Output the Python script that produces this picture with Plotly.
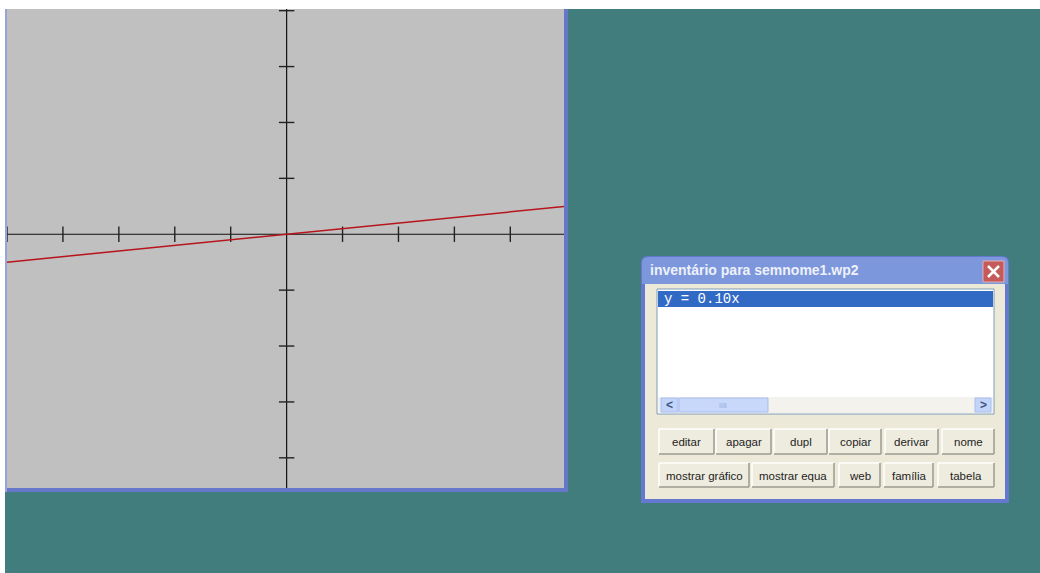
import plotly.graph_objects as go

# canvas (screenshot) size in pixels
W, H = 1040, 573

# ---- graph data ----
x_range = [-5.0, 4.96]
y_range = [-4.54, 4.03]
x_ticks = [-5, -4, -3, -2, -1, 1, 2, 3, 4]
y_ticks = [-4, -3, -2, -1, 1, 2, 3, 4]
line_x = [-5.0, 4.96]
line_y = [-0.50, 0.496]   # y = 0.10x

# ---- inventory window texts ----
window_title = "inventário para semnome1.wp2"
list_items = ["y = 0.10x"]
buttons_row1 = ["editar", "apagar", "dupl", "copiar", "derivar", "nome"]
buttons_row2 = ["mostrar gráfico", "mostrar equa", "web", "família", "tabela"]

# button geometry (pixel x-extents) for each row
row1_x = [(659, 714), (716, 771), (774, 827), (829, 881), (885, 938), (942, 994)]
row2_x = [(659, 749), (752, 834), (839, 880), (884, 933), (938, 994)]
row1_y = (429, 454)
row2_y = (463, 487)

TEAL = "#417D7D"
GRAY = "#C0C0C0"
BEIGE = "#ECE9D8"


def fx(p):
    return p / W


def fy(p):
    return 1 - p / H


shapes = []
annotations = []


def rect(x0, y0, x1, y1, fill, line=None, lw=1, layer="above"):
    shapes.append(dict(
        type="rect", xref="paper", yref="paper",
        x0=fx(x0), x1=fx(x1), y0=fy(y1), y1=fy(y0),
        fillcolor=fill, layer=layer,
        line=dict(color=line or fill, width=lw if line else 0),
    ))


def seg(x0, y0, x1, y1, color, lw=1, layer="above"):
    shapes.append(dict(
        type="line", xref="paper", yref="paper",
        x0=fx(x0), x1=fx(x1), y0=fy(y0), y1=fy(y1),
        layer=layer, line=dict(color=color, width=lw),
    ))


def text(x, y, s, size=11, color="#222222", family="Liberation Sans",
         anchor="center", bold=False):
    annotations.append(dict(
        xref="paper", yref="paper", x=fx(x), y=fy(y), text=f"<b>{s}</b>" if bold else s,
        showarrow=False, xanchor=anchor, yanchor="middle",
        font=dict(size=size, color=color, family=family),
    ))


def top_rounded(x0, y0, x1, y1, r, fill):
    path = (
        f"M {fx(x0)},{fy(y1)} L {fx(x0)},{fy(y0 + r)} "
        f"Q {fx(x0)},{fy(y0)} {fx(x0 + r)},{fy(y0)} "
        f"L {fx(x1 - r)},{fy(y0)} Q {fx(x1)},{fy(y0)} {fx(x1)},{fy(y0 + r)} "
        f"L {fx(x1)},{fy(y1)} Z"
    )
    shapes.append(dict(type="path", xref="paper", yref="paper", path=path,
                       fillcolor=fill, line=dict(width=0), layer="above"))


# desktop background (kept off the plot area)
rect(568, 9, W, H, TEAL, layer="below")
rect(5, 492, 568, H, TEAL, layer="below")
# graph window borders
rect(564, 9, 568, 492, "#6676C8", layer="below")
rect(5, 488, 568, 492, "#6676C8", layer="below")
rect(5, 9, 7, 492, "#98A4D8", layer="below")

# ---- inventory window ----
top_rounded(641, 256, 1009, 503, 7, "#6478CF")
top_rounded(642, 257, 1008, 284, 6, "#7D97DD")
rect(645, 284, 1005, 499, BEIGE)
text(648, 270, window_title, size=14, color="#EEF1FA", anchor="left", bold=True,
     family="Liberation Sans")
# close button
rect(983, 261, 1004, 282, "#C55A5A", line="#E6B0B0", lw=1)
seg(988, 266, 999, 277, "white", lw=2.5)
seg(999, 266, 988, 277, "white", lw=2.5)

# list box
rect(657, 289, 994, 414, "white", line="#7F9DB9", lw=1)
rect(658, 291, 993, 307, "#316AC5")
for i, item in enumerate(list_items):
    text(662, 299 + 16 * i, item, size=14, color="white",
         family="Liberation Mono", anchor="left")
# horizontal scrollbar
rect(658, 397, 993, 413, "#F3F2EC")
rect(661, 398, 678, 412, "#C3D4FA", line="#A8BDEE")
text(669.5, 405, "<b>&lt;</b>", size=12, color="#3F5580")
rect(679, 398, 768, 412, "#C8D8FA", line="#A8BDEE")
text(723, 405, "IIII", size=7, color="#8FA6D8")
rect(975, 398, 991, 412, "#C3D4FA", line="#A8BDEE")
text(983, 405, "<b>&gt;</b>", size=12, color="#3F5580")

# buttons
for labels, xs, (y0, y1) in [(buttons_row1, row1_x, row1_y),
                              (buttons_row2, row2_x, row2_y)]:
    for label, (x0, x1) in zip(labels, xs):
        rect(x0, y0, x1, y1, "#EEEBDF")
        seg(x0, y0, x1, y0, "white", lw=1.5)
        seg(x0, y0, x0, y1, "white", lw=1.5)
        seg(x0, y1, x1, y1, "#9C9A90", lw=1.5)
        seg(x1, y0, x1, y1, "#9C9A90", lw=1.5)
        text((x0 + x1) / 2, (y0 + y1) / 2 + 0.5, label, size=11.5, color="#1E1E1E")

fig = go.Figure()
# axes through the origin
fig.add_trace(go.Scatter(x=x_range, y=[0, 0], mode="lines",
                         line=dict(color="#111111", width=1.2)))
fig.add_trace(go.Scatter(x=[0, 0], y=y_range, mode="lines",
                         line=dict(color="#111111", width=1.2)))
fig.add_trace(go.Scatter(x=x_ticks, y=[0] * len(x_ticks), mode="markers",
                         marker=dict(symbol="line-ns-open", size=11, color="#222222",
                                     line=dict(color="#222222", width=1.4))))
fig.add_trace(go.Scatter(x=[0] * len(y_ticks), y=y_ticks, mode="markers",
                         marker=dict(symbol="line-ew-open", size=11, color="#222222",
                                     line=dict(color="#222222", width=1.4))))
# the function
fig.add_trace(go.Scatter(x=line_x, y=line_y, mode="lines",
                         line=dict(color="#B8141C", width=1.5)))

fig.update_layout(
    width=W, height=H, autosize=False,
    margin=dict(l=0, r=0, t=0, b=0),
    paper_bgcolor="white",
    plot_bgcolor=GRAY,
    showlegend=False,
    hovermode=False,
    xaxis=dict(domain=[7 / W, 564 / W], range=x_range, visible=False, fixedrange=True),
    yaxis=dict(domain=[1 - 488 / H, 1 - 9 / H], range=y_range, visible=False, fixedrange=True),
    shapes=shapes,
    annotations=annotations,
)
fig.write_html("out.html", config={"displayModeBar": False},
               post_script="document.body.style.margin='0';")
